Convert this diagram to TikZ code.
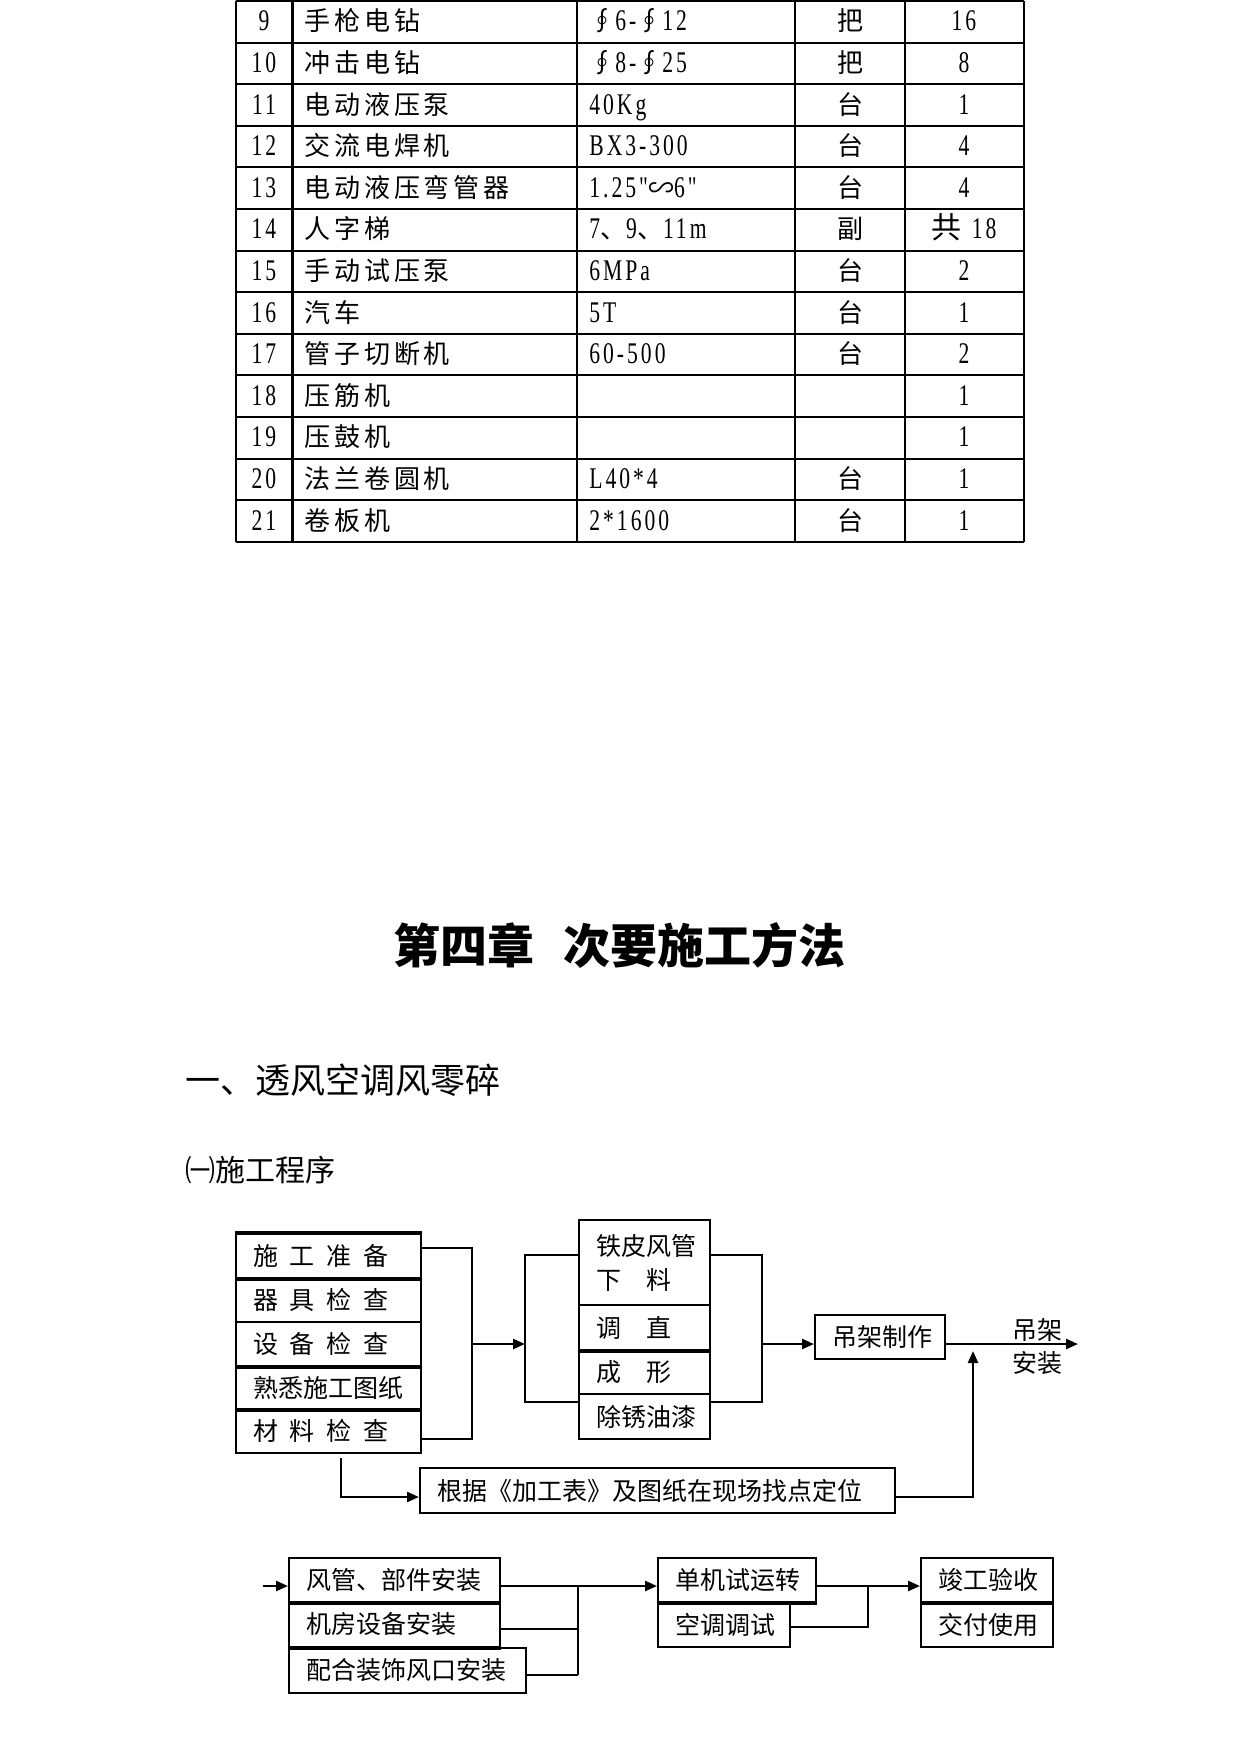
\documentclass[tikz,border=0pt]{standalone}
\usepackage{fontspec}
\setmainfont{Noto Sans CJK SC}
\newfontfamily\tabzh[LetterSpace=15]{Noto Sans CJK SC}
\newfontfamily\tabnum[FakeStretch=0.72,LetterSpace=10]{Liberation Serif}
\usetikzlibrary{arrows.meta}
\newdimen\px \px=0.5pt
\newcommand{\zh}[1]{{\tabzh #1}}
\newcommand{\nm}[1]{{\tabnum\fontsize{15}{17}\selectfont #1}}
\newcommand{\chgap}{\hspace{0.47em}}
\tikzset{
    cell/.style={draw, line width=1pt, anchor=north west, inner xsep=17\px, inner ysep=0pt,
        align=left, text width=#1\px, minimum height=44\px, font=\fontsize{12.5}{17}\selectfont},
    link/.style={line width=1pt},
    flow/.style={line width=1.2pt, -{Triangle[length=6pt,width=5pt]}},
    heavy/.style={line width=1.8pt},
    grid/.style={line width=1pt},
    tab/.style={inner sep=0pt, font=\fontsize{13}{15}\tabzh}}

\begin{document}
\begin{tikzpicture}[x=0.5pt, y=-0.5pt]
    \useasboundingbox (0,0) rectangle (1241,1754);

    % equipment table
    \foreach \r in {0,...,13}
        \draw[grid] (236,{1+41.6*\r}) -- (1024,{1+41.6*\r});
    \foreach \c in {236,576.5,795,904.5,1024}
        \draw[grid] (\c,1) -- (\c,542);
    \draw[line width=1.5pt] (292,1) -- (292,542);
    \foreach \i/\no/\name/\spec/\unit/\qty in {
        0/9/手枪电钻/{\zh{∮}\nm{6-}\zh{∮}\nm{12}}/把/16,
        1/10/冲击电钻/{\zh{∮}\nm{8-}\zh{∮}\nm{25}}/把/8,
        2/11/电动液压泵/{\nm{40Kg}}/台/1,
        3/12/交流电焊机/{\nm{BX3-300}}/台/4,
        4/13/电动液压弯管器/{\nm{1.25"}\zh{∽}\nm{6"}}/台/4,
        5/14/人字梯/{\nm{7}\zh{、}\nm{9}\zh{、}\nm{11m}}/副/{\zh{共}\hspace{0.35em}\nm{18}},
        6/15/手动试压泵/{\nm{6MPa}}/台/2,
        7/16/汽车/{\nm{5T}}/台/1,
        8/17/管子切断机/{\nm{60-500}}/台/2,
        9/18/压筋机/{}/{}/1,
        10/19/压鼓机/{}/{}/1,
        11/20/法兰卷圆机/{\nm{L40*4}}/台/1,
        12/21/卷板机/{\nm{2*1600}}/台/1}{
        \node[tab, anchor=base] (no\i) at (264,{31+41.6*\i}) {\nm{\no}};
        \node[tab, anchor=base west] (name\i) at (304,{31+41.6*\i}) {\name};
        \node[tab, anchor=base west] (spec\i) at (589,{31+41.6*\i}) {\spec};
        \node[tab, anchor=base] (unit\i) at (850,{31+41.6*\i}) {\unit};
        \node[tab, anchor=base] (qty\i) at (964,{31+41.6*\i}) {\nm{\qty}};
    }

    % headings
    \node[font=\fontsize{23.5}{28}\selectfont\bfseries] (chap) at (619.5,945) {第四章\hspace{0.6em}次要施工方法};
    \node[anchor=west, inner sep=0pt, font=\fontsize{17.5}{21}\selectfont] (sec) at (185,1080) {一、透风空调风零碎};
    \node[anchor=west, inner sep=0pt, font=\fontsize{15}{18}\selectfont] (sub) at (185,1170) {㈠施工程序};

    % preparation
    \node[cell=151] (prep) at (235,1233) {施\chgap 工\chgap 准\chgap 备};
    \node[cell=151] (tools) at (235,1277) {器\chgap 具\chgap 检\chgap 查};
    \node[cell=151] (equip) at (235,1321) {设\chgap 备\chgap 检\chgap 查};
    \node[cell=151, minimum height=43\px] (drawings) at (235,1365) {熟悉施工图纸};
    \node[cell=151] (material) at (235,1408) {材\chgap 料\chgap 检\chgap 查};

    % duct making
    \node[cell=97, minimum height=85\px] (cut) at (578,1219) {铁皮风管\\下\quad 料};
    \node[cell=97, minimum height=45\px] (straighten) at (578,1304) {调\quad 直};
    \node[cell=97] (shape) at (578,1349) {成\quad 形};
    \node[cell=97, minimum height=45\px] (paint) at (578,1393) {除锈油漆};

    \node[cell=96] (hanger) at (814,1314) {吊架制作};
    \node[cell=441, minimum height=45\px] (locate) at (419,1467) {根据《加工表》及图纸在现场找点定位};

    % installation
    \node[cell=177] (duct) at (288,1557) {风管、部件安装};
    \node[cell=177, minimum height=45\px] (room) at (288,1601) {机房设备安装};
    \node[cell=203, minimum height=45\px] (outlet) at (288,1647) {配合装饰风口安装};
    \node[cell=124] (trial) at (657,1557) {单机试运转};
    \node[cell=98, minimum height=45\px] (adjust) at (657,1601) {空调调试};
    \node[cell=98] (accept) at (920,1557) {竣工验收};
    \node[cell=98, minimum height=45\px] (deliver) at (920,1601) {交付使用};

    \draw[heavy] (prep.north west) -- (prep.north east);
    \foreach \b in {prep,equip,drawings,straighten,duct,room,trial,accept}
        \draw[heavy] (\b.south west) -- (\b.south east);

    % connectors
    \coordinate (topA) at (472,1248);
    \coordinate (botA) at (472,1439);
    \coordinate (midA) at (472,1344);
    \coordinate (topB) at (525,1255);
    \coordinate (botB) at (525,1402);
    \coordinate (topC) at (762,1255);
    \coordinate (botC) at (762,1402);
    \coordinate (midC) at (762,1344);
    \coordinate (out) at (1078,1344);
    \coordinate (bendL) at (341,1497);
    \coordinate (bendR) at (973,1497);
    \coordinate (tipR) at (973,1351);
    \coordinate (inE) at (263,1586);
    \coordinate (topE) at (578,1586);
    \coordinate (midE) at (578,1629);
    \coordinate (botE) at (578,1675);
    \coordinate (topF) at (868,1586);
    \coordinate (botF) at (868,1627);

    \draw[link] (prep.east |- topA) -- (topA) -- (botA) -- (material.east |- botA);
    \draw[flow] (midA) -- (topB |- midA);
    \draw[link] (cut.west |- topB) -- (topB) -- (botB) -- (paint.west |- botB);
    \draw[link] (cut.east |- topC) -- (topC) -- (botC) -- (paint.east |- botC);
    \draw[flow] (midC) -- (hanger.west |- midC);
    \draw[flow] (hanger.east |- out) -- (out);
    \node[font=\fontsize{12.5}{15}\selectfont] (up) at (1037,1330) {吊架};
    \node[font=\fontsize{12.5}{15}\selectfont] (down) at (1037,1363) {安装};
    \draw[flow, shorten <=4\px] (material.south -| bendL) -- (bendL) -- (locate.west |- bendL);
    \draw[flow] (locate.east |- bendR) -- (bendR) -- (tipR);

    \draw[flow] (inE) -- (duct.west |- inE);
    \draw[flow] (duct.east |- topE) -- (trial.west |- topE);
    \draw[link] (topE) -- (botE);
    \draw[link] (room.east |- midE) -- (midE);
    \draw[link] (outlet.east |- botE) -- (botE);
    \draw[flow] (trial.east |- topF) -- (accept.west |- topF);
    \draw[link] (topF) -- (botF) -- (adjust.east |- botF);

\end{tikzpicture}
\end{document}
